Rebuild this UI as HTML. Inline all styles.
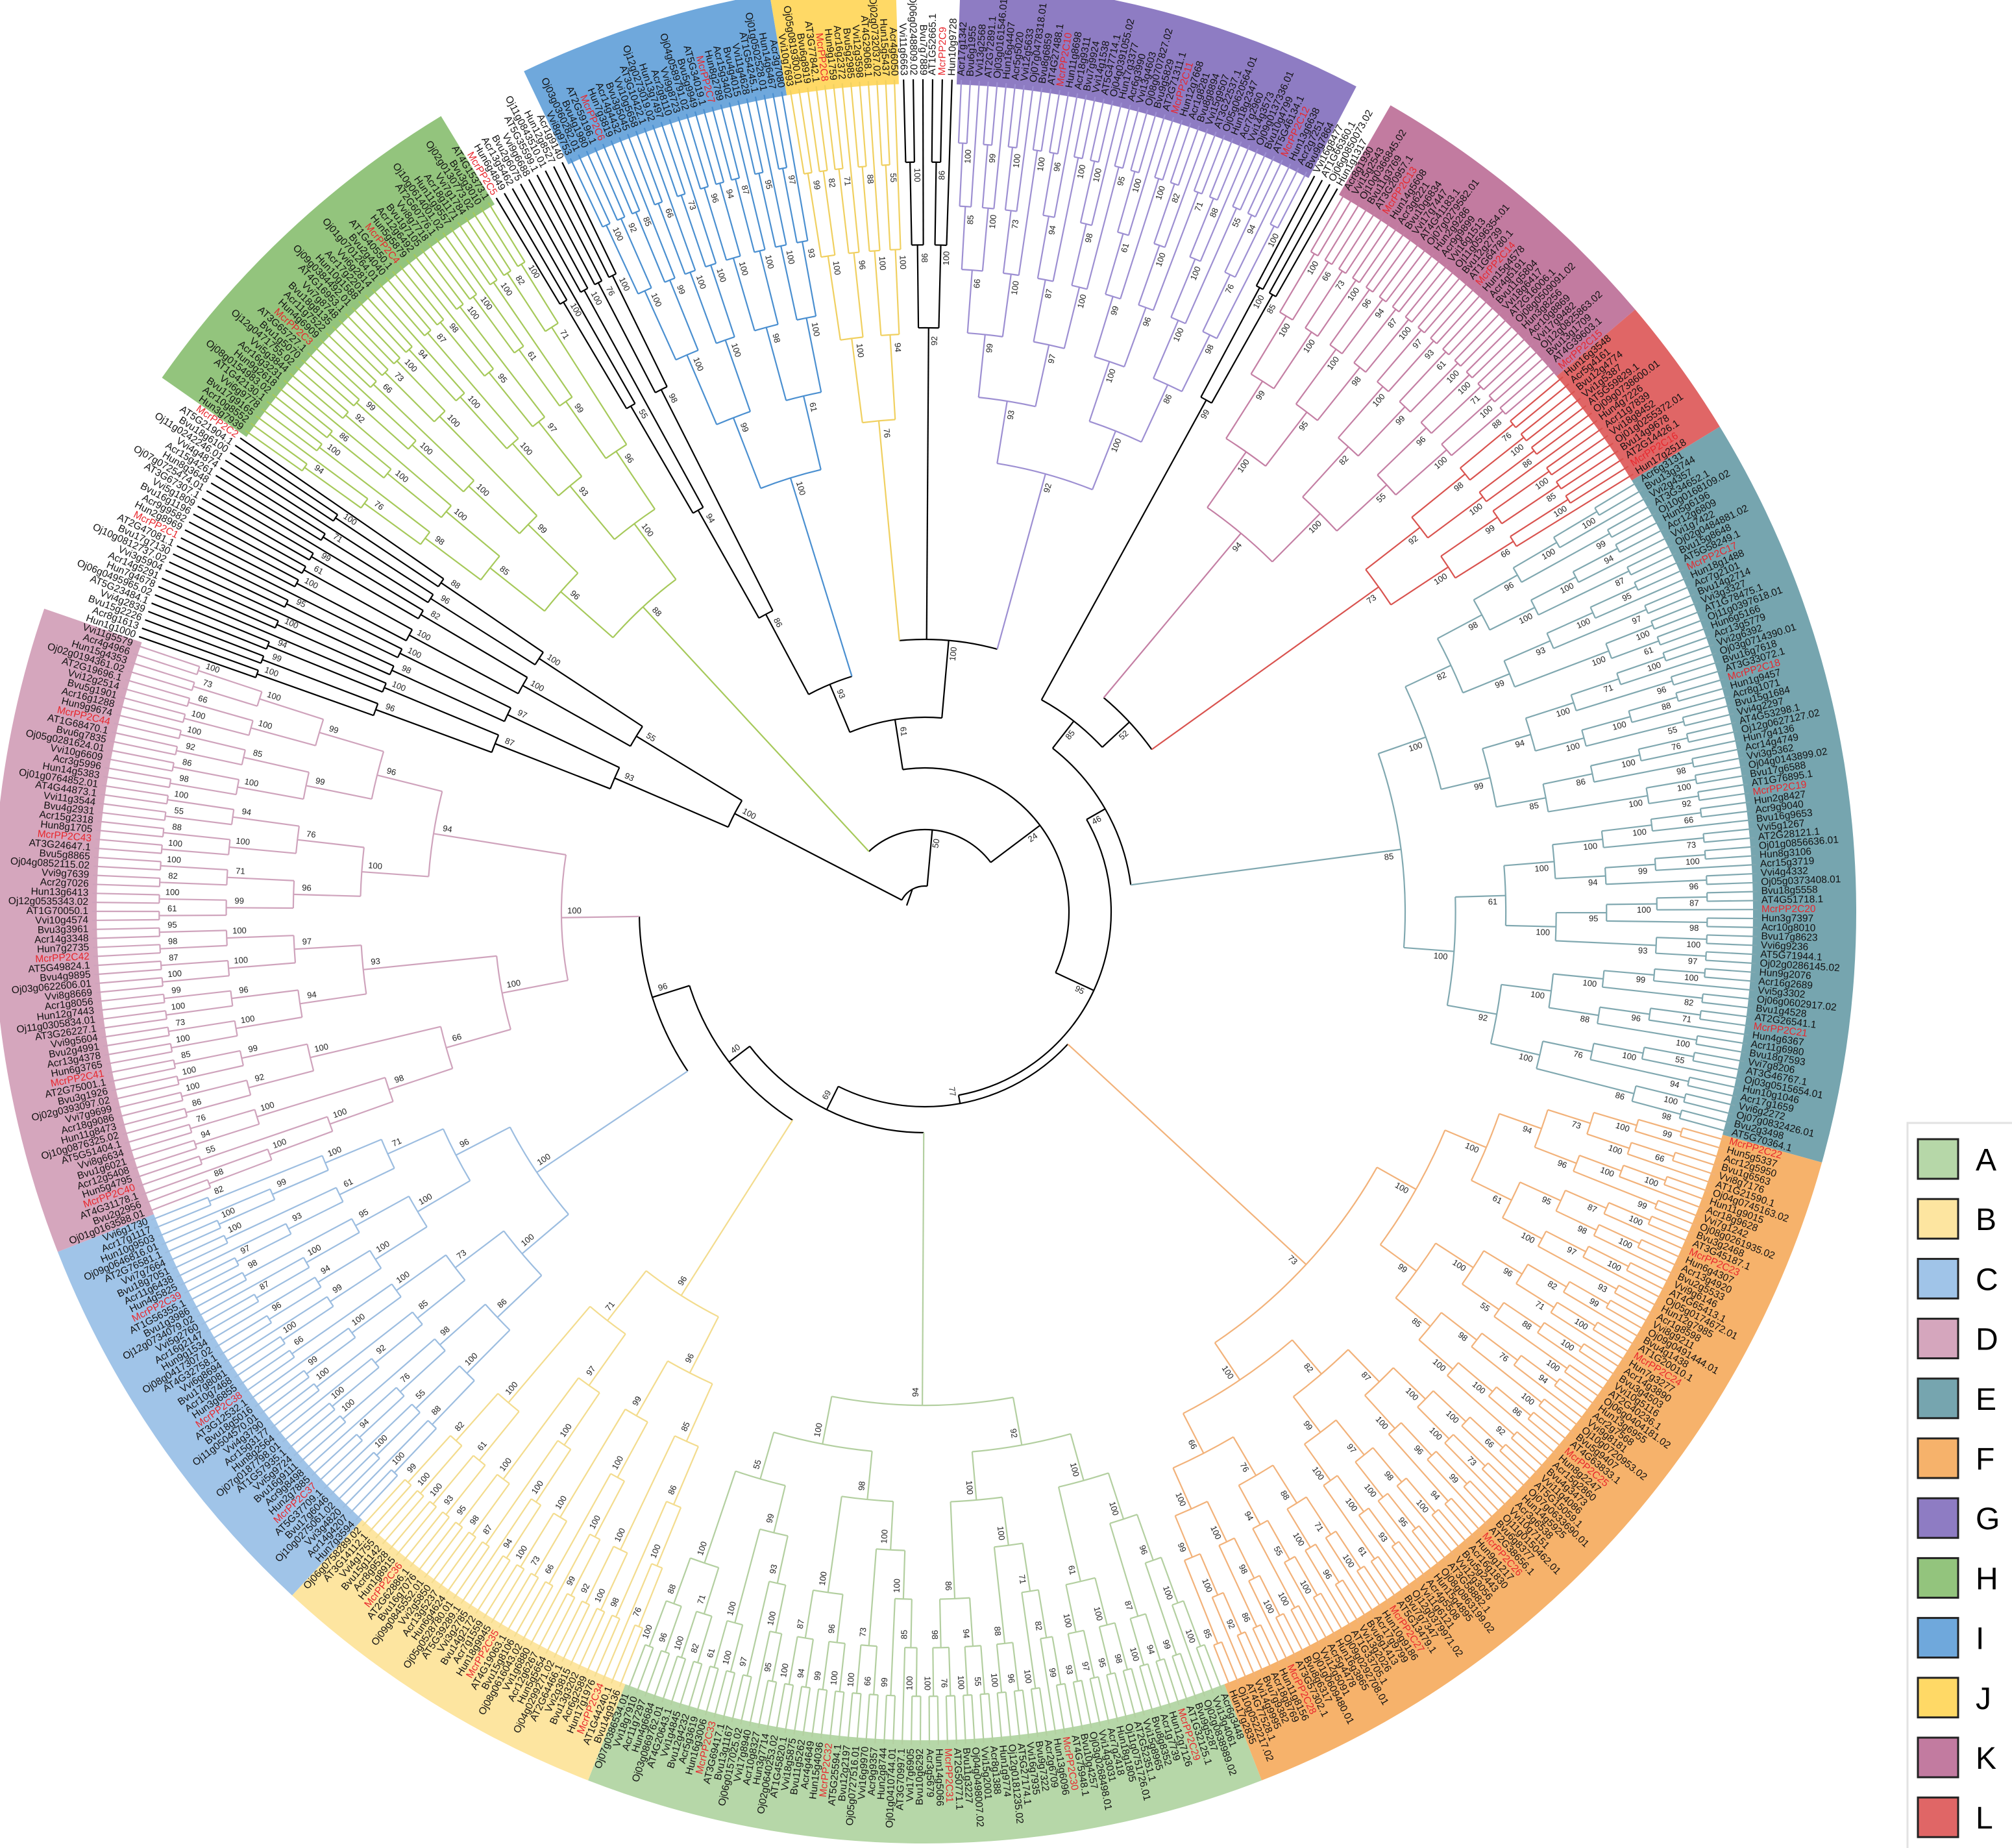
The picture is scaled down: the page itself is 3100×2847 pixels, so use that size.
<!DOCTYPE html>
<html><head><meta charset="utf-8">
<style>
html,body{margin:0;padding:0;background:#fff;}
svg{display:block;font-family:"Liberation Sans",Arial,sans-serif;}
</style></head>
<body>
<svg id="tree" width="3100" height="2847" viewBox="0 0 3100 2847" xmlns="http://www.w3.org/2000/svg">
<g id="bands"></g>
<g id="branches"></g>
<g id="supports"></g>
<g id="labels"></g>
<g id="legend">
 <rect x="2939" y="1730" width="170" height="1130" fill="#fff" stroke="#e2e2e2" stroke-width="3"/>
</g>
</svg>
<script>
// ---- data ----
const cladeNames = ['X1','H','X2','I','J','X3','G','X4','K','L','E','F','A','B','C','D'];
const cladeStart = [199, 215, 238.7, 244.5, 260.4, 268.2, 272.2, 297.6, 300, 319.7, 328.6, 375.6, 428.8, 471.2, 492.8, 518.6];
const cladeEnd   = [215, 238.7, 244.5, 260.4, 268.2, 272.2, 297.6, 300, 319.7, 328.6, 375.6, 428.8, 471.2, 492.8, 518.6, 559];
const cladeRootR = [330, 640, 520, 700, 760, 900, 700, 900, 760, 860, 740, 800, 760, 700, 720, 560];
const legendLetters = ['A','B','C','D','E','F','G','H','I','J','K','L'];
const supportValues = [100,99,96,94,100,87,100,98,95,100,97,93,100,61,100,99,82,100,71,96,100,88,100,55,100,94,76,100,98,86,100,92,100,85,99,100,66,100,73,100];
const backboneSupports = [93,100,61,52,85,46,96,40,69,77,95,24,50];

// ---- styles ----
const bandFill = {A:'#b6d7a8',B:'#fde5a0',C:'#a0c4e8',D:'#d5a6bd',E:'#76a5af',F:'#f6b26b',G:'#8e7cc3',H:'#93c47d',I:'#6fa8dc',J:'#ffd966',K:'#c27ba0',L:'#e06666'};
const branchCol = {A:'#b3cfa0',B:'#f3dc8e',C:'#9cbde0',D:'#cfa3bc',E:'#80a8b0',F:'#f2b27a',G:'#9d8fd2',H:'#a6c95a',I:'#4a8fd0',J:'#f0d060',K:'#c47fa4',L:'#d9534f',X1:'#000',X2:'#000',X3:'#000',X4:'#000'};

const CX=1425, CY=1405, RT=1283, BIN=1276, BOUT=1435, NS='http://www.w3.org/2000/svg';
function P(r,a){const t=a*Math.PI/180;return [CX+r*Math.cos(t), CY+r*Math.sin(t)];}
function mk(tag,attrs,parent){const e=document.createElementNS(NS,tag);for(const k in attrs)e.setAttribute(k,attrs[k]);parent.appendChild(e);return e;}
const gB=document.getElementById('bands'), gBr=document.getElementById('branches'), gS=document.getElementById('supports'), gL=document.getElementById('labels'), gLeg=document.getElementById('legend');

// bands
cladeNames.forEach((c,i)=>{
  if(!bandFill[c]) return;
  const a1=cladeStart[i], a2=cladeEnd[i];
  const p1=P(BIN,a1),p2=P(BOUT,a1),p3=P(BOUT,a2),p4=P(BIN,a2);
  const lg=(a2-a1)>180?1:0;
  const e=mk('path',{d:`M${p1} L${p2} A${BOUT} ${BOUT} 0 ${lg} 1 ${p3} L${p4} A${BIN} ${BIN} 0 ${lg} 0 ${p1}Z`,fill:bandFill[c]},gB);
  
  
});

// leaf names
const species=['Hun','Acr','Bvu','Vvi','AT','Oj','Hun','Acr','Vvi','Oj','Bvu','AT','Mcr'];
let mcr=1;
function leafName(i){
  const s=species[i%species.length];
  if(s==='Mcr') return 'McrPP2C'+(mcr++);
  if(s==='AT') return 'AT'+(1+i%5)+'G'+String(10000+(i*3371)%69000).slice(0,5)+'.1';
  if(s==='Oj') return 'Oj'+String(1+i%12).padStart(2,'0')+'g0'+String(100000+(i*79193)%800000).slice(0,6)+'.0'+(1+i%2);
  return s+(1+(i*7)%18)+'g'+String(1000+(i*613)%8999).slice(0,4);
}

// build clade subtrees
let leafIdx=0;
function split(arr){
  if(arr.length===1) return arr[0];
  const k=Math.ceil(arr.length/2);
  const a=split(arr.slice(0,k)), b=split(arr.slice(k));
  return {children:[a,b], h:Math.max(a.h,b.h)+1, clade:arr[0].clade};
}
function setR(node,r0,H){
  if(!node.children){return;}
  node.r = RT - node.h*(RT-r0)/H;
  node.children.forEach(ch=>setR(ch,r0,H));
}
function fixA(node){ if(!node.children) return node.a; node.children.forEach(fixA); node.a=(node.children[0].a+node.children[node.children.length-1].a)/2; return node.a;}
const cladeRoots=cladeNames.map((c,i)=>{
  const span=cladeEnd[i]-cladeStart[i];
  const n=Math.max(2,Math.round(span/0.62));
  const leaves=[];
  for(let j=0;j<n;j++){leaves.push({a:cladeStart[i]+(j+0.5)*span/n, r:RT, h:0, clade:c, name:leafName(leafIdx++)});}
  const rt=split(leaves);
  fixA(rt);
  setR(rt,cladeRootR[i],rt.h);
  rt.r=cladeRootR[i];
  return rt;
});
const C={}; cladeNames.forEach((c,i)=>C[c]=cladeRoots[i]);

// backbone
function bb(r,ch){return {r:r, children:ch, backbone:true};}
const grpTop = bb(300,[bb(380,[C.X2,C.I]), bb(420,[C.J,C.X3,C.G])]);
const grpRight = bb(320,[bb(373,[C.X4, bb(430,[C.K,C.L])]), C.E]);
const grpBottom = bb(300,[C.F, bb(340,[C.A, bb(380,[C.B, bb(440,[C.C,C.D])])])]);
const treeRoot = bb(40,[C.X1, bb(127,[C.H, bb(222,[grpTop, bb(287,[grpRight,grpBottom])])])]);
fixA(treeRoot);

// draw
let sIdx=0, bIdx=0;
function draw(node){
  if(!node.children) return;
  const col = node.backbone ? '#000' : branchCol[node.clade];
  const angs=node.children.map(c=>c.a);
  const a1=Math.min(...angs), a2=Math.max(...angs);
  const p1=P(node.r,a1), p2=P(node.r,a2);
  const arc=mk('path',{d:`M${p1} A${node.r} ${node.r} 0 ${(a2-a1)>180?1:0} 1 ${p2}`,fill:'none',stroke:col,'stroke-width':2.2},gBr);
  
  
  node.children.forEach(ch=>{
    const lc = ch.backbone ? '#000' : branchCol[ch.clade];
    const q1=P(node.r,ch.a), q2=P(ch.r,ch.a);
    const ln=mk('line',{x1:q1[0],y1:q1[1],x2:q2[0],y2:q2[1],stroke:node.backbone?lc:col,'stroke-width':2.2},gBr);
    
    
    draw(ch);
  });
  const val = node.backbone ? backboneSupports[(bIdx++)%backboneSupports.length] : supportValues[(sIdx++)%supportValues.length];
  if(node.r>60){
    const off=10/node.r*180/Math.PI;
    const aa=node.a+off, rr=node.r-20;
    const pt=P(rr,aa);
    let rot=aa%360; if(rot<0)rot+=360;
    const flip=(rot>90&&rot<270);
    const t=mk('text',{x:pt[0],y:pt[1],'font-size':13,'text-anchor':'middle','dominant-baseline':'middle',fill:'#222',transform:`rotate(${flip?rot+180:rot} ${pt[0]} ${pt[1]})`},gS);
    t.textContent=val;
    
    
  }
}
draw(treeRoot);
(function(){const q=P(40,treeRoot.a);const l=mk('line',{x1:q[0],y1:q[1],x2:CX-28,y2:CY-10,stroke:'#000','stroke-width':2.2},gBr);

})();

// leaf labels
function labels(node){
  if(node.children){node.children.forEach(labels);return;}
  const pt=P(RT+6,node.a);
  let rot=node.a%360; if(rot<0)rot+=360;
  const flip=(rot>90&&rot<270);
  const red=node.name.startsWith('Mcr');
  const t=mk('text',{x:pt[0],y:pt[1],'font-size':15.5,'text-anchor':flip?'end':'start','dominant-baseline':'middle',fill:red?'#e8262c':'#111',transform:`rotate(${flip?rot+180:rot} ${pt[0]} ${pt[1]})`},gL);
  t.textContent=node.name;
  
  
}
labels(treeRoot);

// legend
legendLetters.forEach((L,i)=>{
  const y=1755+i*92.2;
  const r=mk('rect',{x:2955,y:y,width:62,height:61,fill:bandFill[L],stroke:'#222','stroke-width':3},gLeg);
  
  
  const t=mk('text',{x:3044,y:y+48,'font-size':48,fill:'#000'},gLeg);
  t.textContent=L;
  
  
});
</script>
</body></html>
